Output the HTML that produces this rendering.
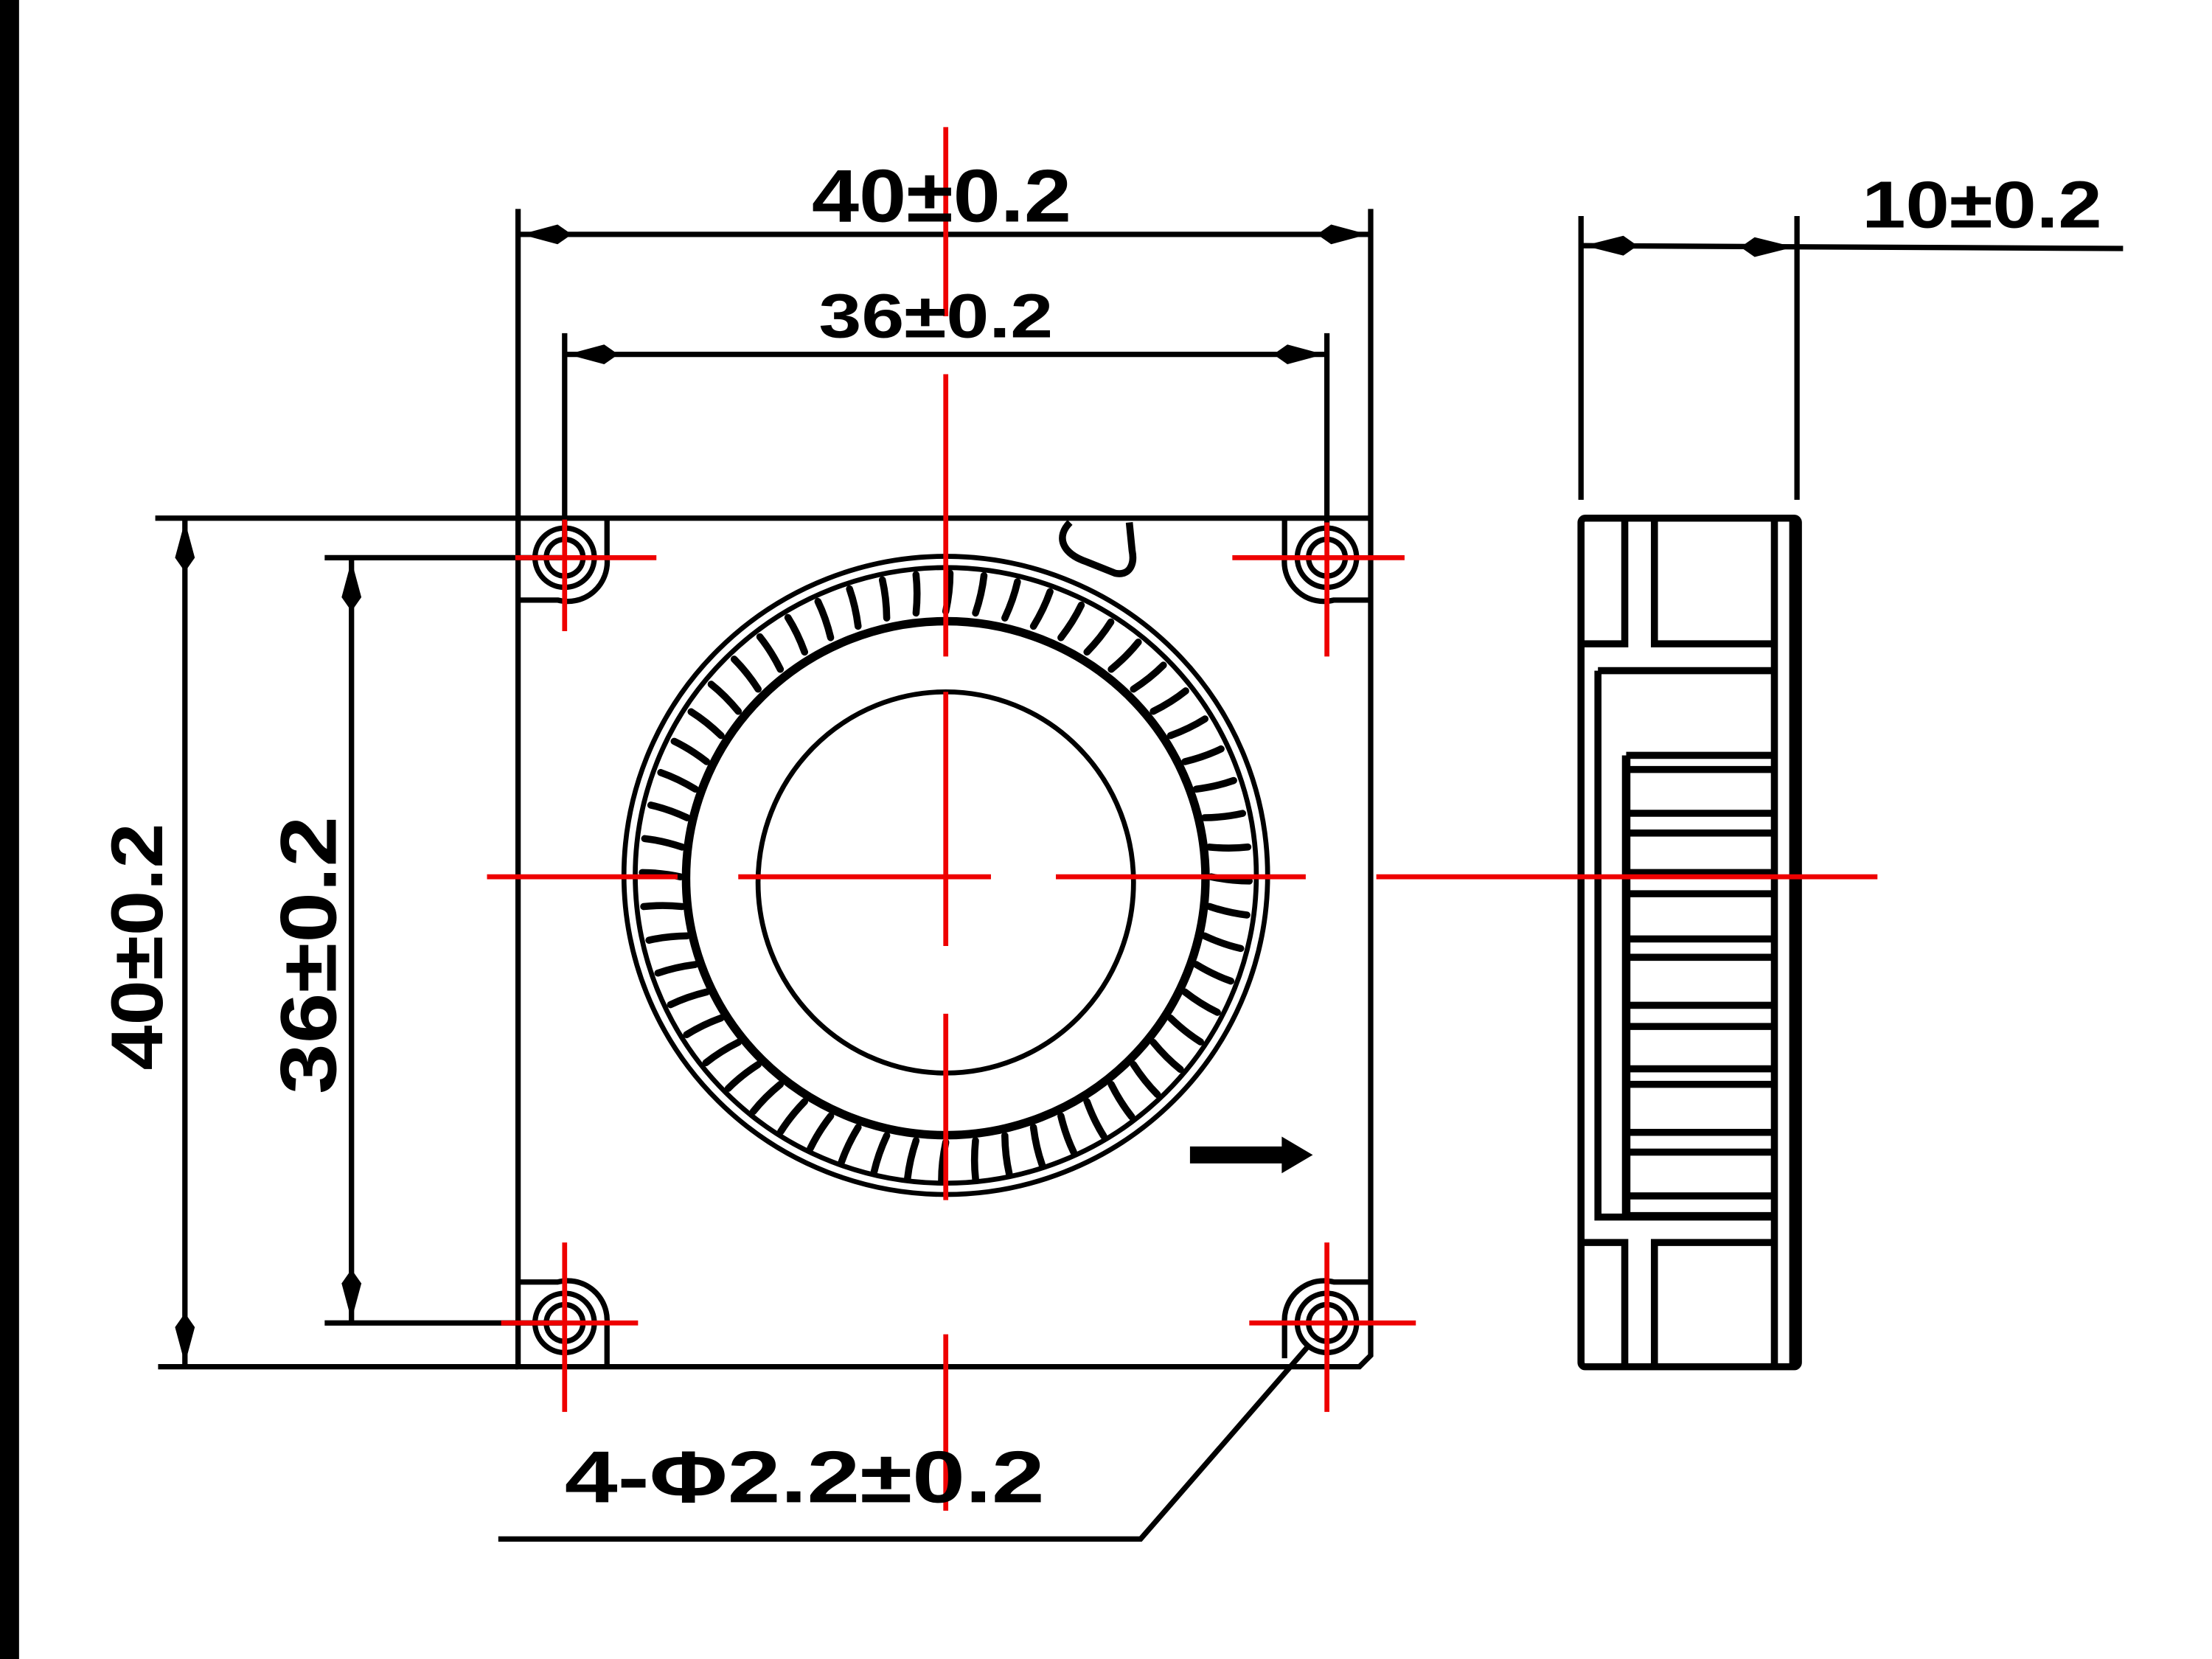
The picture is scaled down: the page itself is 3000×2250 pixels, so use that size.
<!DOCTYPE html>
<html><head><meta charset="utf-8"><style>html,body{margin:0;padding:0;background:#fff}svg{display:block}</style></head>
<body>
<svg width="3000" height="2250" viewBox="0 0 1567 1175" preserveAspectRatio="none" xmlns="http://www.w3.org/2000/svg" font-family="Liberation Sans, sans-serif" font-weight="bold">
<rect x="0" y="0" width="1567" height="1175" fill="#fff"/>
<rect x="0" y="0" width="13.5" height="1175" fill="#000"/>
<g stroke="#000" fill="none" stroke-width="3.8">
 <path d="M367 148 V968 H963 L971 960 V148"/>
 <line x1="367" y1="367" x2="971" y2="367"/>
 <line x1="367" y1="166" x2="971" y2="166"/>
 <line x1="400" y1="236" x2="400" y2="382"/>
 <line x1="940" y1="236" x2="940" y2="382"/>
 <line x1="400" y1="251" x2="940" y2="251"/>
 <line x1="110" y1="367" x2="367" y2="367"/>
 <line x1="112" y1="968" x2="367" y2="968"/>
 <line x1="131" y1="367" x2="131" y2="968"/>
 <line x1="230" y1="395" x2="398" y2="395"/>
 <line x1="230" y1="937" x2="398" y2="937"/>
 <line x1="249" y1="395" x2="249" y2="937"/>
 <polyline points="928,952 808,1090 353,1090"/>
 <path d="M367 425 H395 A28 28 0 0 0 430 395 V367"/>
 <path d="M971 425 H945 A28 28 0 0 1 910 395 V367"/>
 <path d="M367 908 H395 A28 28 0 0 1 430 937 V968"/>
 <path d="M971 908 H945 A28 28 0 0 0 910 937 V962"/>
 <circle cx="400" cy="395" r="21"/><circle cx="400" cy="395" r="13"/>
 <circle cx="940" cy="395" r="21"/><circle cx="940" cy="395" r="13"/>
 <circle cx="400" cy="937" r="21"/><circle cx="400" cy="937" r="13"/>
 <circle cx="940" cy="937" r="21"/><circle cx="940" cy="937" r="13"/>
 <path d="M758 370 C748 380 752 392 770 398 L790 406 C800 408 804 400 802 390 L800 370" stroke-width="5"/>
 <ellipse cx="670" cy="620" rx="228" ry="226" stroke-width="3.5"/>
 <ellipse cx="670" cy="620" rx="220" ry="218" stroke-width="3.5"/>
 <ellipse cx="670" cy="622" rx="184" ry="182" stroke-width="6"/>
 <ellipse cx="670" cy="625" rx="133" ry="135" stroke-width="3.5"/>
 <path d="M1120 153 V354 M1273 153 V354"/>
 <line x1="1120" y1="174" x2="1504" y2="176"/>
 <rect x="1120" y="367" width="154" height="601" rx="3" stroke-width="5"/>
 <path d="M1151 367 V456 H1120 M1172 367 V456 H1257 M1257 367 V968 M1270 367 V968" stroke-width="5"/>
 <path d="M1132 475 H1257 M1132 475 V862 H1257" stroke-width="5"/>
 <path d="M1151 968 V880 H1120 M1172 968 V880 H1257" stroke-width="5"/>
 <path d="M1152 535 V861" stroke-width="6"/>
 <path d="M1152 535 H1257 M1152 545 H1257 M1152 576 H1257 M1152 590 H1257 M1152 618 H1257 M1152 633 H1257 M1152 665 H1257 M1152 678 H1257 M1152 712 H1257 M1152 727 H1257 M1152 757 H1257 M1152 768 H1257 M1152 802 H1257 M1152 816 H1257 M1152 847 H1257 M1152 861 H1257" stroke-width="5"/>
</g>
<g stroke="#000" stroke-width="5" stroke-linecap="round" fill="none" transform="translate(670 621)">
 <g id="b"><path d="M0 -188 Q3 -202 3 -215"/></g>
 <use href="#b" transform="rotate(6.43)"/><use href="#b" transform="rotate(12.86)"/><use href="#b" transform="rotate(19.29)"/><use href="#b" transform="rotate(25.71)"/><use href="#b" transform="rotate(32.14)"/><use href="#b" transform="rotate(38.57)"/><use href="#b" transform="rotate(45)"/><use href="#b" transform="rotate(51.43)"/><use href="#b" transform="rotate(57.86)"/><use href="#b" transform="rotate(64.29)"/><use href="#b" transform="rotate(70.71)"/><use href="#b" transform="rotate(77.14)"/><use href="#b" transform="rotate(83.57)"/><use href="#b" transform="rotate(90)"/><use href="#b" transform="rotate(96.43)"/><use href="#b" transform="rotate(102.86)"/><use href="#b" transform="rotate(109.29)"/><use href="#b" transform="rotate(115.71)"/><use href="#b" transform="rotate(122.14)"/><use href="#b" transform="rotate(128.57)"/><use href="#b" transform="rotate(135)"/><use href="#b" transform="rotate(141.43)"/><use href="#b" transform="rotate(147.86)"/><use href="#b" transform="rotate(154.29)"/><use href="#b" transform="rotate(160.71)"/><use href="#b" transform="rotate(167.14)"/><use href="#b" transform="rotate(173.57)"/><use href="#b" transform="rotate(180)"/><use href="#b" transform="rotate(186.43)"/><use href="#b" transform="rotate(192.86)"/><use href="#b" transform="rotate(199.29)"/><use href="#b" transform="rotate(205.71)"/><use href="#b" transform="rotate(212.14)"/><use href="#b" transform="rotate(218.57)"/><use href="#b" transform="rotate(225)"/><use href="#b" transform="rotate(231.43)"/><use href="#b" transform="rotate(237.86)"/><use href="#b" transform="rotate(244.29)"/><use href="#b" transform="rotate(250.71)"/><use href="#b" transform="rotate(257.14)"/><use href="#b" transform="rotate(263.57)"/><use href="#b" transform="rotate(270)"/><use href="#b" transform="rotate(276.43)"/><use href="#b" transform="rotate(282.86)"/><use href="#b" transform="rotate(289.29)"/><use href="#b" transform="rotate(295.71)"/><use href="#b" transform="rotate(302.14)"/><use href="#b" transform="rotate(308.57)"/><use href="#b" transform="rotate(315)"/><use href="#b" transform="rotate(321.43)"/><use href="#b" transform="rotate(327.86)"/><use href="#b" transform="rotate(334.29)"/><use href="#b" transform="rotate(340.71)"/><use href="#b" transform="rotate(347.14)"/><use href="#b" transform="rotate(353.57)"/>
</g>
<g fill="#000">
 <path d="M369 166 L395 159 L405 166 L395 173 Z"/>
 <path d="M969 166 L943 159 L933 166 L943 173 Z"/>
 <path d="M402 251 L428 244 L438 251 L428 258 Z"/>
 <path d="M938 251 L912 244 L902 251 L912 258 Z"/>
 <path d="M131 369 L124 395 L131 405 L138 395 Z"/>
 <path d="M131 966 L124 940 L131 930 L138 940 Z"/>
 <path d="M249 397 L242 423 L249 433 L256 423 Z"/>
 <path d="M249 935 L242 909 L249 899 L256 909 Z"/>
 <path d="M1122 174 L1150 167 L1160 174 L1150 181 Z"/>
 <path d="M1271 175 L1243 168 L1233 175 L1243 182 Z"/>
 <path d="M843 812 H908 V805 L930 818 L908 831 V824 H843 Z"/>
</g>
<g stroke="#e00" stroke-width="3.5" fill="none">
 <path d="M670 90 V224 M670 265 V465 M670 490 V670 M670 718 V850 M670 945 V1070"/>
 <path d="M345 621 H480 M523 621 H702 M748 621 H925 M975 621 H1330"/>
 <path d="M365 395 H465 M400 368 V447"/>
 <path d="M873 395 H995 M940 370 V465"/>
 <path d="M355 937 H452 M400 880 V1000"/>
 <path d="M885 937 H1003 M940 880 V1000"/>
</g>
<g fill="#000">
 <text x="575" y="157" font-size="53" textLength="184" lengthAdjust="spacingAndGlyphs">40±0.2</text>
 <text x="580" y="239" font-size="44" textLength="166" lengthAdjust="spacingAndGlyphs">36±0.2</text>
 <text x="1319" y="161" font-size="47" textLength="170" lengthAdjust="spacingAndGlyphs">10±0.2</text>
 <text x="400" y="1064" font-size="52" textLength="340" lengthAdjust="spacingAndGlyphs">4-Φ2.2±0.2</text>
 <text transform="translate(115 758) rotate(-90)" font-size="52" textLength="175" lengthAdjust="spacingAndGlyphs">40±0.2</text>
 <text transform="translate(238 775) rotate(-90)" font-size="56" textLength="197" lengthAdjust="spacingAndGlyphs">36±0.2</text>
</g>
</svg>
</body></html>
